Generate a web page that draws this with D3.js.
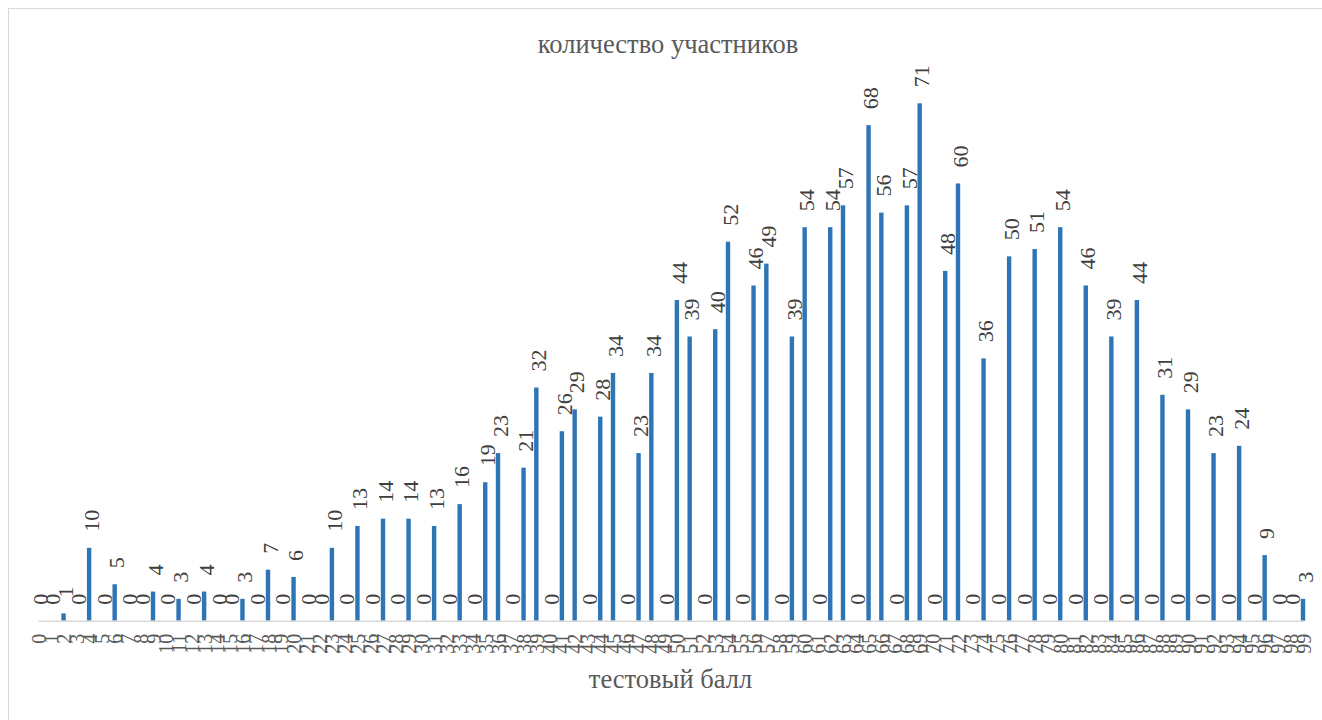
<!DOCTYPE html>
<html><head><meta charset="utf-8">
<script src="https://cdn.jsdelivr.net/npm/d3@7"></script>
<style>body{margin:0;background:#fff}svg{display:block}</style>
</head><body>
<svg id="chart" width="1322" height="720"></svg>
<script>
const title = "количество участников";
const xTitle = "тестовый балл";
const scores = d3.range(0, 100).map(String);
const counts = [0,0,1,0,10,0,5,0,0,4,
  0,3,0,4,0,0,3,0,7,0,
  6,0,0,10,0,13,0,14,0,14,
  0,13,0,16,0,19,23,0,21,32,
  0,26,29,0,28,34,0,23,34,0,
  44,39,0,40,52,0,46,49,0,39,
  54,0,54,57,0,68,56,0,57,71,
  0,48,60,0,36,0,50,0,51,0,
  54,0,46,0,39,0,44,0,31,0,
  29,0,23,0,24,0,9,0,0,3];

const svg = d3.select("#chart");
svg.append("rect").attr("x",8.5).attr("y",8.5).attr("width",1330).attr("height",730)
  .attr("fill","#fff").attr("stroke","#d9d9d9").attr("stroke-width",1);

const x = d3.scalePoint().domain(scores).range([38, 1303]);
const y = d3.scaleLinear().domain([0, 71]).range([620.7, 103.3]);

const font = "'Liberation Serif','Times New Roman',serif";

svg.append("g").selectAll("rect").data(counts).join("rect")
  .attr("x",(d,i)=>x(scores[i])-2.2).attr("width",4.4)
  .attr("y",d=>y(d)).attr("height",d=>y(0)-y(d))
  .attr("fill","#2e75b6");

// axis
const xAxis = d3.axisBottom(x).tickSize(0).tickPadding(0);
const gx = svg.append("g").attr("transform",`translate(0,${y(0)})`).call(xAxis);
gx.select(".domain").attr("stroke","#d9d9d9").attr("stroke-width",1.5);
gx.selectAll(".tick text")
  .attr("transform","translate(0,13) rotate(-90)")
  .attr("x",0).attr("y",0).attr("dy","0.35em")
  .attr("text-anchor","end")
  .attr("font-family",font).attr("font-size",20).attr("fill","#595959");

// data labels
svg.append("g").selectAll("text").data(counts).join("text")
  .attr("transform",(d,i)=>`translate(${x(scores[i])+2},${y(d)-16}) rotate(-90)`)
  .attr("dy","0.35em").attr("text-anchor","start")
  .attr("font-family",font).attr("font-size",22).attr("fill","#404040")
  .text(d=>d);

svg.append("text").attr("x",668).attr("y",53).attr("text-anchor","middle")
  .attr("font-family",font).attr("font-size",26.5).attr("fill","#595959").text(title);
svg.append("text").attr("x",670.5).attr("y",688).attr("text-anchor","middle")
  .attr("font-family",font).attr("font-size",26.5).attr("fill","#595959").text(xTitle);
</script>
</body></html>
